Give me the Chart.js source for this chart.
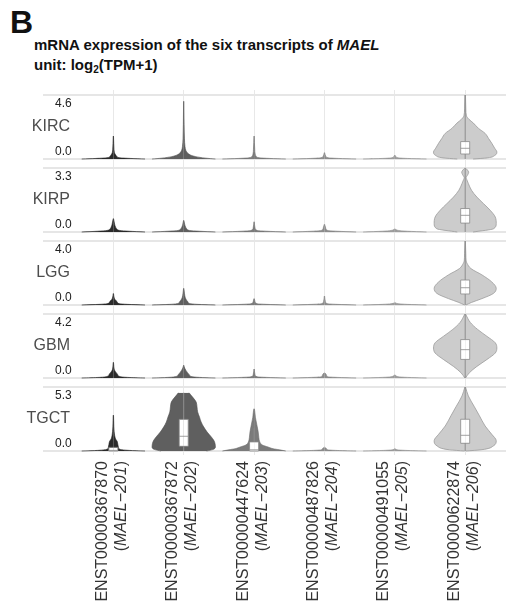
<!DOCTYPE html>
<html>
<head>
<meta charset="utf-8">
<script src="https://cdn.jsdelivr.net/npm/chart.js@4.4.1/dist/chart.umd.min.js"></script>
<style>
    body { margin: 0; background: #fff; font-family: "Liberation Sans", Arial, sans-serif; }
    #page { position: relative; width: 506px; height: 614px; overflow: hidden; }
    #tag { position: absolute; left: 10px; top: 6px; font-size: 32px; font-weight: bold; line-height: 1; color: #111; }
    #title { position: absolute; left: 34px; top: 35px; font-size: 15px; font-weight: bold; line-height: 20px; color: #111; white-space: nowrap; }
    #title sub { font-size: 10px; line-height: 0; vertical-align: -3px; }
    canvas { position: absolute; left: 0; }
</style>
</head>
<body>
<div id="page">
    <div id="tag">B</div>
    <div id="title">mRNA expression of the six transcripts of <i>MAEL</i><br>unit: log<sub>2</sub>(TPM+1)</div>
    <canvas id="panel0" width="506" height="73" style="top:90px"></canvas>
    <canvas id="panel1" width="506" height="73" style="top:163px"></canvas>
    <canvas id="panel2" width="506" height="73" style="top:236px"></canvas>
    <canvas id="panel3" width="506" height="73" style="top:309px"></canvas>
    <canvas id="panel4" width="506" height="232" style="top:382px"></canvas>
</div>
<script>
// Categories and axis labels
const cancers = ['KIRC', 'KIRP', 'LGG', 'GBM', 'TGCT'];
const maxValues = [4.6, 3.3, 4.0, 4.2, 5.3];
const transcripts = ['ENST00000367870', 'ENST00000367872', 'ENST00000447624',
    'ENST00000487826', 'ENST00000491055', 'ENST00000622874'];
const isoforms = ['MAEL\u2212201', 'MAEL\u2212202', 'MAEL\u2212203',
    'MAEL\u2212204', 'MAEL\u2212205', 'MAEL\u2212206'];

// Violin outlines: [log2(TPM+1), relative half width], bottom to top, one per transcript
const kircViolins = [
    [[0, 1], [0.04, 0.55], [0.09, 0.2], [0.18, 0.11], [0.3, 0.07], [0.45, 0.035], [0.7, 0.02], [1.1, 0.012], [1.65, 0.004]],
    [[0, 1], [0.06, 0.7], [0.17, 0.38], [0.29, 0.21], [0.41, 0.13], [0.6, 0.07], [0.9, 0.04], [1.5, 0.022], [2.5, 0.012], [4.15, 0.004]],
    [[0, 1], [0.04, 0.5], [0.09, 0.16], [0.18, 0.07], [0.35, 0.035], [0.7, 0.02], [1.65, 0.004]],
    [[0, 1], [0.04, 0.45], [0.09, 0.12], [0.2, 0.04], [0.46, 0.005]],
    [[0, 1], [0.04, 0.4], [0.09, 0.1], [0.18, 0.03], [0.28, 0.004]],
    [[0, 0.25], [0.08, 0.7], [0.25, 0.93], [0.5, 1.0], [0.78, 0.93], [1.13, 0.84], [1.47, 0.74], [1.84, 0.63], [2.2, 0.42], [2.58, 0.26], [2.85, 0.12], [3.1, 0.04], [3.6, 0.02], [4.6, 0.008]]
];
const kirpViolins = [
    [[0, 1], [0.04, 0.5], [0.08, 0.2], [0.15, 0.11], [0.25, 0.07], [0.4, 0.04], [0.69, 0.005]],
    [[0, 1], [0.04, 0.5], [0.08, 0.18], [0.15, 0.1], [0.25, 0.06], [0.4, 0.03], [0.6, 0.005]],
    [[0, 1], [0.04, 0.4], [0.08, 0.1], [0.2, 0.03], [0.53, 0.005]],
    [[0, 1], [0.04, 0.4], [0.08, 0.1], [0.2, 0.04], [0.4, 0.005]],
    [[0, 1], [0.04, 0.4], [0.08, 0.12], [0.17, 0.005]],
    [[0, 0.25], [0.17, 0.9], [0.43, 0.98], [0.77, 0.95], [1.12, 0.79], [1.46, 0.58], [1.8, 0.37], [2.15, 0.2], [2.5, 0.1], [2.7, 0.05], [2.8, 0.03], [2.95, 0.08], [3.08, 0.11], [3.2, 0.07], [3.3, 0.01]]
];
const lggViolins = [
    [[0, 1], [0.04, 0.45], [0.08, 0.2], [0.15, 0.13], [0.25, 0.1], [0.35, 0.05], [0.5, 0.02], [0.72, 0.005]],
    [[0, 1], [0.04, 0.45], [0.1, 0.18], [0.2, 0.13], [0.3, 0.09], [0.45, 0.05], [0.7, 0.025], [1.04, 0.005]],
    [[0, 1], [0.04, 0.4], [0.08, 0.1], [0.2, 0.03], [0.4, 0.005]],
    [[0, 1], [0.04, 0.4], [0.08, 0.1], [0.2, 0.03], [0.56, 0.005]],
    [[0, 1], [0.04, 0.4], [0.08, 0.12], [0.16, 0.01]],
    [[0, 0.02], [0.16, 0.2], [0.4, 0.53], [0.72, 0.89], [1.04, 0.98], [1.44, 0.84], [1.88, 0.53], [2.28, 0.18], [2.6, 0.06], [2.75, 0.03], [3.2, 0.02], [4.0, 0.005]]
];
const gbmViolins = [
    [[0, 1], [0.04, 0.45], [0.1, 0.2], [0.25, 0.13], [0.4, 0.07], [0.55, 0.03], [0.75, 0.015], [1.03, 0.004]],
    [[0, 1], [0.04, 0.5], [0.1, 0.24], [0.2, 0.18], [0.35, 0.12], [0.5, 0.07], [0.65, 0.03], [0.84, 0.005]],
    [[0, 1], [0.04, 0.4], [0.08, 0.1], [0.2, 0.03], [0.59, 0.005]],
    [[0, 1], [0.04, 0.4], [0.08, 0.1], [0.15, 0.07], [0.25, 0.05], [0.34, 0.01]],
    [[0, 1], [0.04, 0.4], [0.08, 0.12], [0.21, 0.01]],
    [[0, 0.01], [0.34, 0.13], [0.76, 0.37], [1.22, 0.69], [1.64, 0.95], [1.97, 1.0], [2.31, 0.95], [2.73, 0.69], [3.19, 0.39], [3.65, 0.16], [4.2, 0.01]]
];
const tgctViolins = [
    [[0, 1], [0.05, 0.5], [0.15, 0.2], [0.3, 0.16], [0.55, 0.14], [0.8, 0.12], [1.0, 0.07], [1.3, 0.04], [1.6, 0.025], [2.0, 0.015], [2.5, 0.01], [2.97, 0.005]],
    [[0, 0.72], [0.12, 0.92], [0.33, 1.0], [0.6, 0.99], [0.88, 0.95], [1.2, 0.86], [1.57, 0.74], [2.0, 0.63], [2.4, 0.55], [2.8, 0.5], [3.23, 0.44], [3.65, 0.42], [4.07, 0.39], [4.4, 0.3], [4.65, 0.22], [4.82, 0.17]],
    [[0, 1], [0.1, 0.8], [0.19, 0.6], [0.33, 0.44], [0.5, 0.26], [0.75, 0.18], [1.1, 0.15], [1.57, 0.13], [2.0, 0.1], [2.4, 0.07], [2.8, 0.04], [3.2, 0.025], [3.5, 0.008]],
    [[0, 1], [0.05, 0.35], [0.1, 0.1], [0.2, 0.06], [0.32, 0.01]],
    [[0, 1], [0.05, 0.35], [0.1, 0.08], [0.2, 0.01]],
    [[0, 0.02], [0.1, 0.5], [0.42, 0.89], [0.85, 0.98], [1.38, 0.84], [2.07, 0.63], [2.92, 0.45], [3.71, 0.28], [4.56, 0.1], [5.3, 0.01]]
];

// Box plots: [whisker low, Q1, median, Q3, whisker high]; null = too small to show
const kircBoxes = [null, null, null, null, null, [0, 0.36, 0.77, 1.25, 4.6]];
const kirpBoxes = [null, null, null, null, null, [0, 0.46, 0.86, 1.21, 3.3]];
const lggBoxes = [null, null, null, null, null, [0, 0.69, 1.08, 1.56, 4.0]];
const gbmBoxes = [null, null, null, null, null, [0, 1.22, 1.86, 2.52, 4.2]];
const tgctBoxes = [[0, 0, 0.05, 0.3, 0.3], [0, 0.39, 1.22, 2.62, 4.82], [0, 0, 0.1, 0.75, 1.9], null, null, [0, 0.64, 1.3, 2.63, 5.3]];

const allViolins = [kircViolins, kirpViolins, lggViolins, gbmViolins, tgctViolins];
const allBoxes = [kircBoxes, kirpBoxes, lggBoxes, gbmBoxes, tgctBoxes];

// Styles
const violinFill = ['#2b2b2b', '#5f5f5f', '#7b7b7b', '#8c8c8c', '#9c9c9c', '#cccccc'];
const violinLine = ['#1f1f1f', '#4f4f4f', '#6a6a6a', '#7a7a7a', '#8a8a8a', '#9a9a9a'];
const boxLine = '#8a8a8a';
const HALF = 0.45;   // max half width of a violin, in category units
const BOX = 0.064;   // half width of the box
const FONT = '"Liberation Sans", Arial, sans-serif';

Chart.defaults.font.family = FONT;

// Build the line datasets that draw each violin and its box
// (higher order = drawn further back)
function violinDatasets(profiles, boxes) {
    const sets = [];
    profiles.forEach((prof, i) => {
        const c = i + 1;
        [1, -1].forEach(side => {
            sets.push({
                data: prof.map(([v, w]) => ({ x: c + side * w * HALF, y: v })),
                fill: { value: c },
                backgroundColor: violinFill[i],
                borderColor: violinLine[i],
                borderWidth: i === 5 ? 0.8 : 0.6,
                cubicInterpolationMode: 'monotone',
                order: 3
            });
        });
        const b = boxes[i];
        if (b) {
            const [lo, q1, med, q3, hi] = b;
            sets.push({
                data: [{ x: c, y: lo }, { x: c, y: hi }],
                fill: false, borderColor: boxLine, borderWidth: 1, order: 2
            });
            [1, -1].forEach(side => {
                sets.push({
                    data: [{ x: c, y: q1 }, { x: c + side * BOX, y: q1 }, { x: c + side * BOX, y: q3 }, { x: c, y: q3 }],
                    fill: { value: c }, backgroundColor: '#ffffff', borderColor: boxLine, borderWidth: 0.8, order: 1
                });
            });
            sets.push({
                data: [{ x: c - BOX, y: med }, { x: c + BOX, y: med }],
                fill: false, borderColor: boxLine, borderWidth: 0.8, order: 0
            });
        }
    });
    return sets;
}

// Cancer name on the left of every panel
const rowLabel = {
    id: 'rowLabel',
    afterDraw(chart, args, opts) {
        const { ctx, chartArea, scales } = chart;
        ctx.save();
        ctx.font = '16px ' + FONT;
        ctx.fillStyle = '#4d4d4d';
        ctx.textAlign = 'right';
        ctx.textBaseline = 'middle';
        ctx.fillText(opts.text, chartArea.left + 27, scales.y.getPixelForValue(opts.value));
        ctx.restore();
    }
};

// Rotated transcript names under the last panel, isoform name in italics
const isoformLabels = {
    id: 'isoformLabels',
    afterDraw(chart) {
        const { ctx, chartArea, scales } = chart;
        const reg = '16px ' + FONT;
        const ital = 'italic 16px ' + FONT;
        const top = chartArea.bottom + 6;
        ctx.save();
        ctx.fillStyle = '#333';
        ctx.textBaseline = 'middle';
        transcripts.forEach((name, i) => {
            const px = scales.x.getPixelForValue(i + 1);
            ctx.save();
            ctx.translate(px - 11, top);
            ctx.rotate(-Math.PI / 2);
            ctx.font = reg;
            ctx.textAlign = 'right';
            ctx.fillText(name, 0, 0);
            ctx.restore();

            const parts = [['(', reg], [isoforms[i], ital], [')', reg]];
            let w = 0;
            parts.forEach(([t, f]) => { ctx.font = f; w += ctx.measureText(t).width; });
            ctx.save();
            ctx.translate(px + 8, top);
            ctx.rotate(-Math.PI / 2);
            ctx.textAlign = 'left';
            let x = -w;
            parts.forEach(([t, f]) => {
                ctx.font = f;
                ctx.fillText(t, x, 0);
                x += ctx.measureText(t).width;
            });
            ctx.restore();
        });
        ctx.restore();
    }
};

// y axes only carry labels, they take no room in the layout
function noRoom(s) {
    s.width = 0;
    s.paddingTop = 0;
    s.paddingBottom = 0;
}

function createPanel(k) {
    const M = maxValues[k];
    const unit = M / 64;
    const last = k === cancers.length - 1;
    const tickFont = { size: 12 };
    new Chart(document.getElementById('panel' + k), {
        type: 'line',
        data: { datasets: violinDatasets(allViolins[k], allBoxes[k]) },
        options: {
            indexAxis: 'y',
            responsive: false,
            animation: false,
            layout: { padding: { left: 43, right: 0, top: 0, bottom: last ? 159 : 0 } },
            elements: { point: { radius: 0, hitRadius: 0 }, line: { borderJoinStyle: 'round' } },
            plugins: {
                legend: { display: false },
                tooltip: { enabled: false },
                rowLabel: { text: cancers[k], value: M / 2 }
            },
            scales: {
                x: {
                    type: 'linear',
                    min: 0,
                    max: 6.58,
                    afterBuildTicks: s => { s.ticks = transcripts.map((t, i) => ({ value: i + 1 })); },
                    afterFit: s => { s.height = 0; s.paddingLeft = 0; s.paddingRight = 0; },
                    grid: { color: '#e8e8e8', lineWidth: 1, drawTicks: false },
                    border: { display: false },
                    ticks: { display: false }
                },
                y: {
                    type: 'linear',
                    position: 'left',
                    min: -4 * unit,
                    max: M + 5 * unit,
                    afterBuildTicks: s => { s.ticks = [{ value: 0 }, { value: M }]; },
                    afterFit: noRoom,
                    grid: { color: '#e6e6e6', lineWidth: 2, drawTicks: false },
                    border: { display: false },
                    ticks: {
                        mirror: true, padding: 12, labelOffset: 8.5, color: '#222', font: tickFont,
                        callback: v => v === M ? M.toFixed(1) : ''
                    }
                },
                yZero: {
                    type: 'linear',
                    position: 'left',
                    min: -4 * unit,
                    max: M + 5 * unit,
                    afterBuildTicks: s => { s.ticks = [{ value: 0 }]; },
                    afterFit: noRoom,
                    grid: { display: false, drawTicks: false },
                    border: { display: false },
                    ticks: {
                        mirror: true, padding: 12, labelOffset: -7.5, color: '#222', font: tickFont,
                        callback: v => v === 0 ? '0.0' : ''
                    }
                }
            }
        },
        plugins: last ? [rowLabel, isoformLabels] : [rowLabel]
    });
}

cancers.forEach((c, k) => createPanel(k));
</script>
</body>
</html>
